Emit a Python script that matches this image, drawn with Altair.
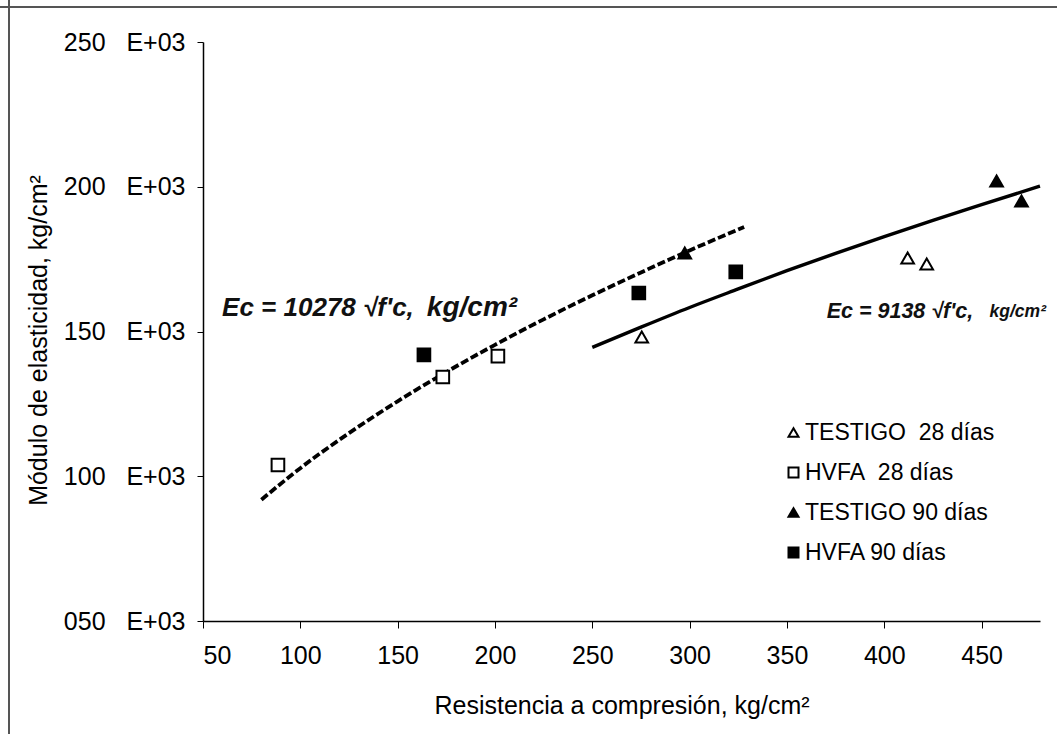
import altair as alt
import pandas as pd

NB = "\u00a0"

# ---- data ----
series_names = ["TESTIGO" + NB * 2 + "28 días", "HVFA" + NB * 2 + "28 días",
                "TESTIGO 90 días", "HVFA 90 días"]

testigo28_x = [275.4, 412.0, 421.8]
testigo28_y = [148.1, 175.4, 173.3]
hvfa28_x = [88.5, 173.2, 201.5]
hvfa28_y = [103.9, 134.3, 141.5]
testigo90_x = [297.5, 457.7, 470.5]
testigo90_y = [177.1, 202.0, 195.1]
hvfa90_x = [163.5, 273.9, 323.7]
hvfa90_y = [141.9, 163.3, 170.6]

# trend curves (dashed: HVFA, solid: TESTIGO)
fit_hvfa_x = [80, 100, 125, 150, 175, 200, 225, 250, 275, 300, 328]
fit_hvfa_y = [91.9, 102.8, 114.9, 125.9, 136.0, 145.4, 154.2, 162.5, 170.4, 178.0, 186.1]
fit_test_x = [250, 275, 300, 325, 350, 375, 400, 425, 450, 480]
fit_test_y = [144.5, 151.5, 158.3, 164.7, 171.0, 177.0, 182.8, 188.4, 193.8, 200.2]

x_ticks = [50, 100, 150, 200, 250, 300, 350, 400, 450]
y_ticks = [50, 100, 150, 200, 250]

eq_left = "Ec = 10278 √f'c,"
eq_right = "Ec = 9138 √f'c,"
eq_units = "kg/cm²"

# ---- tables ----
rows = []
for name, xs, ys in zip(series_names,
                        [testigo28_x, hvfa28_x, testigo90_x, hvfa90_x],
                        [testigo28_y, hvfa28_y, testigo90_y, hvfa90_y]):
    for a, b in zip(xs, ys):
        rows.append({"x": a, "y": b, "serie": name})
pts = pd.DataFrame(rows)
curve_hvfa = pd.DataFrame({"x": fit_hvfa_x, "y": fit_hvfa_y})
curve_test = pd.DataFrame({"x": fit_test_x, "y": fit_test_y})

FONT = "Liberation Sans"
FS = 25

xscale = alt.Scale(domain=[50, 480], nice=False, zero=False)
yscale = alt.Scale(domain=[50, 250], nice=False, zero=False)

x_axis = alt.Axis(values=x_ticks, tickSize=7, labelPadding=15,
                  title="Resistencia a compresión, kg/cm²",
                  titleY=84, titleBaseline="middle")
y_axis = alt.Axis(values=y_ticks, tickSize=6, labelPadding=12,
                  labelExpr="(datum.value < 100 ? '0' : '') + datum.value + '" + NB * 3 + "E+03'",
                  title="Módulo de elasticidad, kg/cm²",
                  titleAngle=-90, titleX=-165, titleY=298,
                  titleAlign="center", titleBaseline="middle")

leg = alt.Legend(orient="none", legendX=579, legendY=379, title=None,
                 labelFont=FONT, labelFontSize=23, labelColor="black", labelLimit=400,
                 symbolSize=100, symbolStrokeWidth=2, symbolStrokeColor="black",
                 rowPadding=16, labelOffset=0, padding=0)

line_hvfa = alt.Chart(curve_hvfa).mark_line(
    color="black", strokeWidth=3.8, strokeDash=[8, 3], interpolate="monotone"
).encode(x=alt.X("x:Q", scale=xscale, axis=x_axis),
         y=alt.Y("y:Q", scale=yscale, axis=y_axis))

line_test = alt.Chart(curve_test).mark_line(
    color="black", strokeWidth=3.4, interpolate="monotone"
).encode(x="x:Q", y="y:Q")

points = alt.Chart(pts).mark_point(
    filled=True, size=160, strokeWidth=2, opacity=1
).encode(
    x="x:Q", y="y:Q",
    shape=alt.Shape("serie:N", scale=alt.Scale(domain=series_names,
                    range=["triangle-up", "square", "triangle-up", "square"]), legend=leg),
    fill=alt.Fill("serie:N", scale=alt.Scale(domain=series_names,
                  range=["white", "white", "black", "black"]), legend=leg),
    stroke=alt.Stroke("serie:N", scale=alt.Scale(domain=series_names,
                      range=["black", "black", "black", "black"]), legend=leg),
)


def eq_text(txt, xv, yv, fs):
    return alt.Chart(pd.DataFrame({"t": [txt]})).mark_text(
        align="left", baseline="middle", font=FONT, fontSize=fs,
        fontStyle="italic", fontWeight="bold", color="#111"
    ).encode(x=alt.datum(xv), y=alt.datum(yv), text="t:N")


texts = [
    eq_text(eq_left, 59.8, 158.1, 26),
    eq_text(eq_units, 165.0, 158.1, 28),
    eq_text(eq_right, 370.4, 156.7, 21.5),
    eq_text(eq_units, 454.1, 156.7, 17.5),
]

frame_left = alt.Chart(pd.DataFrame({"a": [0]})).mark_rule(color="#555", strokeWidth=2).encode(
    x=alt.value(-194), y=alt.value(-42), y2=alt.value(692))
frame_top = alt.Chart(pd.DataFrame({"a": [0]})).mark_rule(color="#555", strokeWidth=2).encode(
    x=alt.value(-203), x2=alt.value(854), y=alt.value(-35))

chart = alt.layer(line_hvfa, line_test, points, *texts, frame_left, frame_top).properties(
    width=837, height=579,
    autosize=alt.AutoSizeParams(type="none"),
    padding={"left": 203, "top": 42, "right": 17, "bottom": 113},
    background="white",
).configure_view(stroke=None).configure_axis(
    grid=False, domainColor="black", tickColor="black", domainWidth=1.5,
    labelFont=FONT, labelFontSize=FS, labelColor="black",
    titleFont=FONT, titleFontSize=FS, titleFontWeight="normal", titleColor="black",
)

chart.save("out.html", embed_options={"renderer": "svg", "actions": False})
